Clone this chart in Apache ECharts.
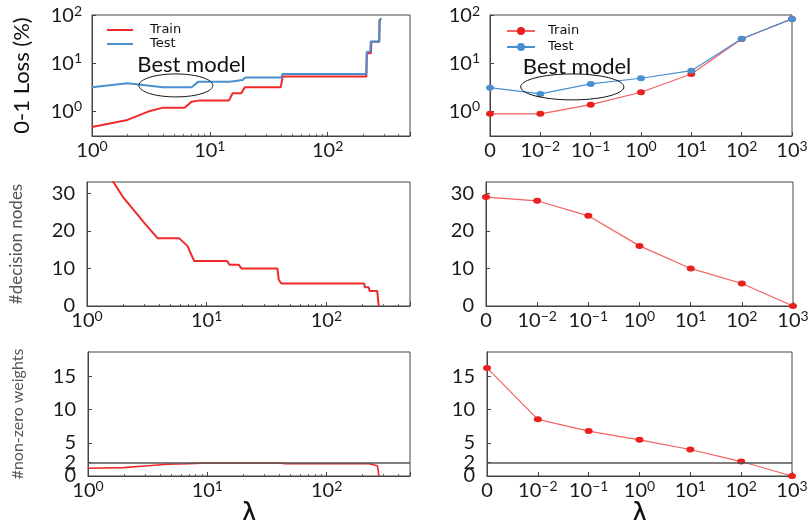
<!DOCTYPE html>
<html><head><meta charset="utf-8">
<script src="https://cdn.jsdelivr.net/npm/echarts@6/dist/echarts.min.js"></script>
<style>html,body{margin:0;padding:0;background:#fff}#c{width:810px;height:520px}</style>
</head><body><div id="c"></div>
<script>
// ---- data: left column (continuous lambda) ----
const lamTrain  = [1, 2, 3, 4, 6.1, 7, 8, 14.5, 15.6, 18.5, 19.8, 40, 41.5, 213, 215, 233, 235, 274, 276, 285];
const lossTrain = [0.46, 0.65, 0.97, 1.17, 1.17, 1.56, 1.64, 1.64, 2.34, 2.34, 3.1, 3.1, 5.2, 5.2, 15.9, 15.9, 27.8, 27.8, 78, 85];
const lamTest   = [1, 2, 4, 7, 8, 14.8, 15.2, 19, 20, 40.5, 41.5, 213, 215, 230, 232, 274, 276, 285];
const lossTest  = [3.1, 3.77, 3.1, 3.1, 4.08, 4.08, 4.4, 4.4, 5.0, 5.0, 5.9, 5.9, 17.2, 17.2, 28, 28, 79, 85];
const lamNodes  = [1, 1.3, 1.66, 2.0, 3.0, 3.9, 5.9, 6.9, 7.85, 14.8, 15.5, 18.5, 19.5, 39, 40, 42, 207, 210, 226, 230, 266, 274];
const nodesL    = [44, 38.5, 33, 29, 22.2, 18, 18, 16, 12, 12, 11, 11, 10, 10, 7, 6, 6, 5, 5, 4, 4, 0];
const lamW      = [1, 2, 3, 4.6, 7, 10, 40, 45, 227, 230, 266, 270, 274];
const weightsL  = [1.17, 1.26, 1.5, 1.77, 1.85, 1.97, 1.97, 1.85, 1.85, 1.56, 1.56, 1.0, 0];
// ---- data: right column (discrete lambda, equally spaced) ----
const xCats     = ['0', '1e-2', '1e-1', '1e0', '1e1', '1e2', '1e3'];
const trainR    = [0.87, 0.87, 1.35, 2.45, 5.9, 31.6, 83];
const testR     = [3.06, 2.26, 3.65, 4.8, 6.9, 32, 83];
const nodesR    = [29, 28, 24, 16, 10, 6, 0];
const weightsR  = [16.3, 8.55, 6.77, 5.45, 4.0, 2.18, 0];
// ---- ticks / reference ----
const weightTicks = [0, 5, 10, 15];
const weightTicks2 = [2];
const nodeTicks   = [0, 10, 20, 30];
const refWeight   = 2;
// annotation ellipses: [x1, y1, x2, y2] in data space; label position [x, y]
const ellipseL = [2.5, 5.9, 10.6, 1.96];
const labelL   = [7.0, 9.1];
const ellipseR = [0.61, 5.9, 2.66, 1.7];
const labelR   = [1.73, 8.25];

const zip = (a, b) => a.map((v, i) => [v, b[i]]);
const idx = (b) => b.map((v, i) => [i, v]);
const RED = '#ee2a2a', BLUE = '#4a8fd0', LRED = '#f26060', DOT = '#e8201e';
const FONT = 'Lato';
const rich = {
  b: {fontSize: 20, fontFamily: FONT, color: '#1a1a1a', lineHeight: 22, verticalAlign: 'bottom'},
  s: {fontSize: 14, fontFamily: FONT, color: '#1a1a1a', lineHeight: 14, verticalAlign: 'top'}
};
function powLabel(v) {
  const l = Math.log10(v), e = Math.round(l);
  if (Math.abs(l - e) > 1e-6) return '';
  return '{b|10}{s|' + (e < 0 ? '\u2212' + (-e) : e) + '}';
}
function catLabel(v) {
  const c = xCats[Math.round(v)];
  if (c === undefined) return '';
  if (c === '0') return '{b|0}';
  return powLabel(Number(c));
}
const axisLine = {show: true, lineStyle: {color: '#444', width: 1}};
const tick = {show: true, inside: true, length: 4, lineStyle: {color: '#444'}};
const minor = {show: true, splitNumber: 9, length: 2, lineStyle: {color: '#666'}};
const lamName = {nameLocation: 'middle', nameGap: 24, nameTextStyle: {fontSize: 28, fontFamily: 'DejaVu Sans', color: '#111'}};

const grids = [
  {left: 92, width: 318, top: 15, height: 121},
  {left: 490, width: 302, top: 15, height: 121},
  {left: 87, width: 323, top: 182, height: 124},
  {left: 486, width: 307, top: 182, height: 124},
  {left: 88, width: 322, top: 352, height: 124},
  {left: 487, width: 305, top: 352, height: 124}
].map(g => Object.assign({show: true, borderColor: '#444', borderWidth: 1, backgroundColor: 'transparent',
  containLabel: false, outerBoundsMode: 'none'}, g));

function logX(i, name) {
  return Object.assign({type: 'log', gridIndex: i, min: 1, max: 500, axisLine, axisTick: tick, splitLine: {show: false},
    minorTick: minor,
    axisLabel: {formatter: powLabel, rich, margin: 3, hideOverlap: false},
    name: name || ''}, lamName);
}
function catX(i, name) {
  return Object.assign({type: 'value', gridIndex: i, min: 0, max: xCats.length - 1, interval: 1, axisLine, axisTick: tick,
    axisLabel: {formatter: catLabel, rich, margin: 3, hideOverlap: false}, splitLine: {show: false},
    name: name || ''}, lamName);
}
function yName(text, gap, size, color) {
  return {name: text, nameLocation: 'middle', nameGap: gap,
    nameTextStyle: {fontSize: size, fontFamily: FONT, color: color}};
}
function logY(i, named) {
  return Object.assign({type: 'log', gridIndex: i, min: 0.3, max: 100, axisLine, axisTick: tick, splitLine: {show: false},
    axisLabel: {formatter: powLabel, rich, margin: 10, hideOverlap: false}},
    named ? yName('0-1 Loss (%)', 59, 22, '#111') : {});
}
function nodeY(i, named) {
  return Object.assign({type: 'value', gridIndex: i, min: 0, max: 33, axisLine, splitLine: {show: false},
    axisTick: Object.assign({customValues: nodeTicks}, tick),
    axisLabel: {customValues: nodeTicks, fontSize: 20, fontFamily: FONT, color: '#1a1a1a', margin: 12, hideOverlap: false}},
    named ? yName('#decision nodes', 62, 17, '#555') : {});
}
function weightY(i, named, ticks) {
  return Object.assign({type: 'value', gridIndex: i, position: 'left', offset: 0, min: 0, max: 18.7, axisLine, splitLine: {show: false},
    axisTick: Object.assign({customValues: ticks}, tick),
    axisLabel: {customValues: ticks, fontSize: 20, lineHeight: 10, fontFamily: FONT, color: '#1a1a1a', margin: 12,
      hideOverlap: false, showMinLabel: true, showMaxLabel: true}},
    named ? yName('#non-zero weights', 62, 16, '#555') : {});
}

function annot(i, box, lab) {
  return {type: 'custom', xAxisIndex: i, yAxisIndex: i, silent: true, z: 5,
    data: [[box[0], box[1], box[2], box[3], lab[0], lab[1]]],
    renderItem(params, api) {
      const p1 = api.coord([api.value(0), api.value(1)]);
      const p2 = api.coord([api.value(2), api.value(3)]);
      const cx = (p1[0] + p2[0]) / 2, cy = (p1[1] + p2[1]) / 2;
      const rx = Math.abs(p2[0] - p1[0]) / 2, ry = Math.abs(p2[1] - p1[1]) / 2;
      const pts = [];
      for (let k = 0; k <= 72; k++) {
        const t = k / 72 * Math.PI * 2;
        pts.push([cx + rx * Math.cos(t), cy + ry * Math.sin(t)]);
      }
      const lp = api.coord([api.value(4), api.value(5)]);
      return {type: 'group', children: [
        {type: 'polyline', shape: {points: pts}, style: {stroke: '#111', lineWidth: 1, fill: null}},
        {type: 'text', x: lp[0], y: lp[1], style: {text: 'Best model', fontSize: 22, fontFamily: FONT,
          fill: '#111', align: 'center', verticalAlign: 'middle'}}
      ]};
    }};
}

const rightLine = (name, data, xi, color, lc) => ({
  type: 'line', name, xAxisIndex: xi, yAxisIndex: xi, data: idx(data), symbol: 'circle', symbolSize: [8, 6],
  itemStyle: {color}, lineStyle: {color: lc, width: 1.2}, z: 3
});
const refLine = {silent: true, symbol: 'none', label: {show: false}, lineStyle: {color: '#555', width: 1.5, type: 'solid'},
  data: [{yAxis: refWeight}]};

const option = {
  animation: false,
  grid: grids,
  legend: [
    {data: ['Train', 'Test'], orient: 'vertical', left: 102, top: 18, icon: 'rect', itemWidth: 26, itemHeight: 2, itemGap: 0,
      textStyle: {fontSize: 13, lineHeight: 14, fontFamily: 'DejaVu Sans', color: '#111', padding: [0, 0, 0, 12]}},
    {data: ['Train ', 'Test '], orient: 'vertical', left: 501, top: 19, itemWidth: 28, itemHeight: 10, itemGap: 2,
      textStyle: {fontSize: 13, lineHeight: 14, fontFamily: 'DejaVu Sans', color: '#111', padding: [0, 0, 0, 8]}}
  ],
  xAxis: [logX(0), catX(1), logX(2), catX(3), logX(4, '\u03bb'), catX(5, '\u03bb')],
  yAxis: [logY(0, true), logY(1, false), nodeY(2, true), nodeY(3, false),
    weightY(4, true, weightTicks), weightY(5, false, weightTicks),
    weightY(4, false, weightTicks2), weightY(5, false, weightTicks2)],
  series: [
    {type: 'line', name: 'Train', xAxisIndex: 0, yAxisIndex: 0, data: zip(lamTrain, lossTrain), symbol: 'none',
      lineStyle: {color: RED, width: 2}, itemStyle: {color: RED}, z: 3},
    {type: 'line', name: 'Test', xAxisIndex: 0, yAxisIndex: 0, data: zip(lamTest, lossTest), symbol: 'none',
      lineStyle: {color: BLUE, width: 2}, itemStyle: {color: BLUE}, z: 4},
    rightLine('Train ', trainR, 1, DOT, LRED),
    rightLine('Test ', testR, 1, BLUE, BLUE),
    {type: 'line', name: 'nodesL', xAxisIndex: 2, yAxisIndex: 2, data: zip(lamNodes, nodesL), symbol: 'none',
      lineStyle: {color: RED, width: 2}},
    rightLine('nodesR', nodesR, 3, DOT, LRED),
    {type: 'line', name: 'weightsL', xAxisIndex: 4, yAxisIndex: 4, data: zip(lamW, weightsL), symbol: 'none',
      lineStyle: {color: RED, width: 1.6}, markLine: refLine},
    Object.assign(rightLine('weightsR', weightsR, 5, DOT, LRED), {markLine: refLine}),
    annot(0, ellipseL, labelL),
    annot(1, ellipseR, labelR)
  ]
};
const chart = echarts.init(document.getElementById('c'), null, {renderer: 'canvas'});
chart.setOption(option);
</script></body></html>
